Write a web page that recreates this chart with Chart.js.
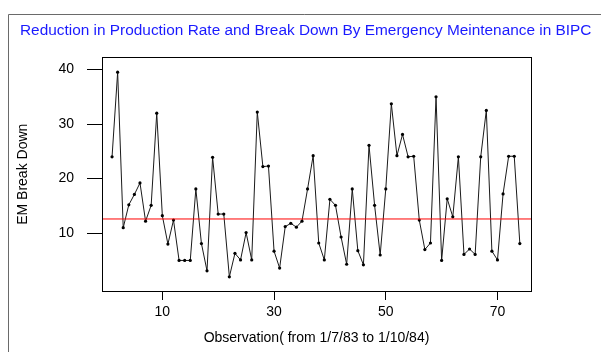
<!DOCTYPE html>
<html>
<head>
<meta charset="utf-8">
<script src="https://cdn.jsdelivr.net/npm/chart.js@4/dist/chart.umd.min.js"></script>
<style>
  html, body { margin: 0; padding: 0; background: #fff; }
  #wrap { width: 601px; height: 352px; }
</style>
</head>
<body>
<div id="wrap"><canvas id="chart" width="601" height="352"></canvas></div>
<script>
"use strict";

/*global Chart*/

// EM break downs per observation, 1/7/83 to 1/10/84
var emBreakDown = [24, 39.5, 11, 15.2, 17.1, 19.2, 12.2, 15.1, 32, 13.2,
    8, 12.4, 5, 5, 5, 18.1, 8.1, 3.1, 23.9, 13.5,
    13.5, 2, 6.3, 5.1, 10.1, 5.1, 32.2, 22.2, 22.3, 6.7,
    3.6, 11.2, 11.8, 11.1, 12.2, 18.1, 24.2, 8.2, 5.1, 16.2,
    15.1, 9.3, 4.3, 18.1, 6.8, 4.2, 26.1, 15.1, 6, 18.1,
    33.7, 24.2, 28.1, 24, 24.1, 12.4, 7, 8.2, 35, 5,
    16.3, 13, 24, 6.1, 7.1, 6.1, 24, 32.5, 6.7, 5.1,
    17.2, 24.1, 24.1, 8.1];
var centerLine = 12.6;
var xTicks = [10, 30, 50, 70];
var yTicks = [10, 20, 30, 40];
var xRange = [-0.8, 76];
var yRange = [-0.6, 42.2];

var font = '"Liberation Sans", Arial, sans-serif',
    points = emBreakDown.map(function (v, i) {
        return {x: i + 1, y: v};
    }),
    median = xRange.map(function (x) {
        return {x: x, y: centerLine};
    });

var setTicks = function (list) {
    return function (scale) {
        scale.ticks = list.map(function (v) {
            return {value: v};
        });
    };
};

var frame = {
    id: 'frame',
    beforeDraw: function (chart) {
        var ctx = chart.ctx;
        ctx.save();
        ctx.fillStyle = '#fff';
        ctx.fillRect(0, 0, chart.width, chart.height);
        ctx.restore();
    },
    afterDraw: function (chart) {
        var ctx = chart.ctx,
            a = chart.chartArea;
        ctx.save();
        ctx.lineWidth = 1;
        ctx.strokeStyle = '#000';
        ctx.strokeRect(Math.round(a.left) + 0.5, Math.round(a.top) + 0.5,
            Math.round(a.right - a.left), Math.round(a.bottom - a.top));
        // outer picture border
        ctx.strokeStyle = '#6a6a6a';
        ctx.beginPath();
        ctx.moveTo(8.5, chart.height);
        ctx.lineTo(8.5, 14.5);
        ctx.lineTo(chart.width, 14.5);
        ctx.stroke();
        ctx.restore();
    }
};

new Chart(document.getElementById('chart'), {
    type: 'line',
    data: {
        datasets: [{
            data: median,
            borderColor: '#ff0000',
            borderWidth: 1,
            pointRadius: 0
        }, {
            data: points,
            borderColor: '#1a1a1a',
            borderWidth: 1,
            tension: 0,
            pointRadius: 1.6,
            pointBorderWidth: 0,
            pointBackgroundColor: '#000'
        }]
    },
    options: {
        responsive: false,
        animation: false,
        devicePixelRatio: 1,
        layout: {padding: {left: 20, right: 0, top: 0, bottom: 0}},
        plugins: {
            legend: {display: false},
            tooltip: {enabled: false},
            title: {
                display: true,
                align: 'start',
                text: 'Reduction in Production Rate and Break Down By Emergency Meintenance in BIPC',
                color: '#1a1aff',
                font: {family: font, size: 15.4, weight: 'normal'},
                padding: {top: 22, bottom: 17}
            }
        },
        scales: {
            x: {
                type: 'linear',
                min: xRange[0],
                max: xRange[1],
                afterBuildTicks: setTicks(xTicks),
                afterFit: function (s) { s.height = 61; },
                grid: {drawOnChartArea: false, tickLength: 9, color: '#000'},
                border: {display: false},
                ticks: {color: '#000', padding: 4, font: {family: font, size: 14}},
                title: {
                    display: true,
                    text: 'Observation( from 1/7/83 to 1/10/84)',
                    color: '#000',
                    font: {family: font, size: 14},
                    padding: {top: 0, bottom: 5}
                }
            },
            y: {
                min: yRange[0],
                max: yRange[1],
                afterBuildTicks: setTicks(yTicks),
                afterFit: function (s) { s.width = 82; },
                grid: {drawOnChartArea: false, tickLength: 15, color: '#000'},
                border: {display: false},
                ticks: {color: '#000', padding: 13, font: {family: font, size: 14}},
                title: {
                    display: true,
                    text: 'EM Break Down',
                    color: '#000',
                    font: {family: font, size: 14},
                    padding: {top: -5, bottom: 0}
                }
            },
            // empty strip right of the frame
            side: {
                type: 'linear',
                position: 'right',
                afterFit: function (s) { s.width = 70; },
                grid: {display: false},
                border: {display: false},
                ticks: {display: false}
            }
        }
    },
    plugins: [frame]
});
</script>
</body>
</html>
